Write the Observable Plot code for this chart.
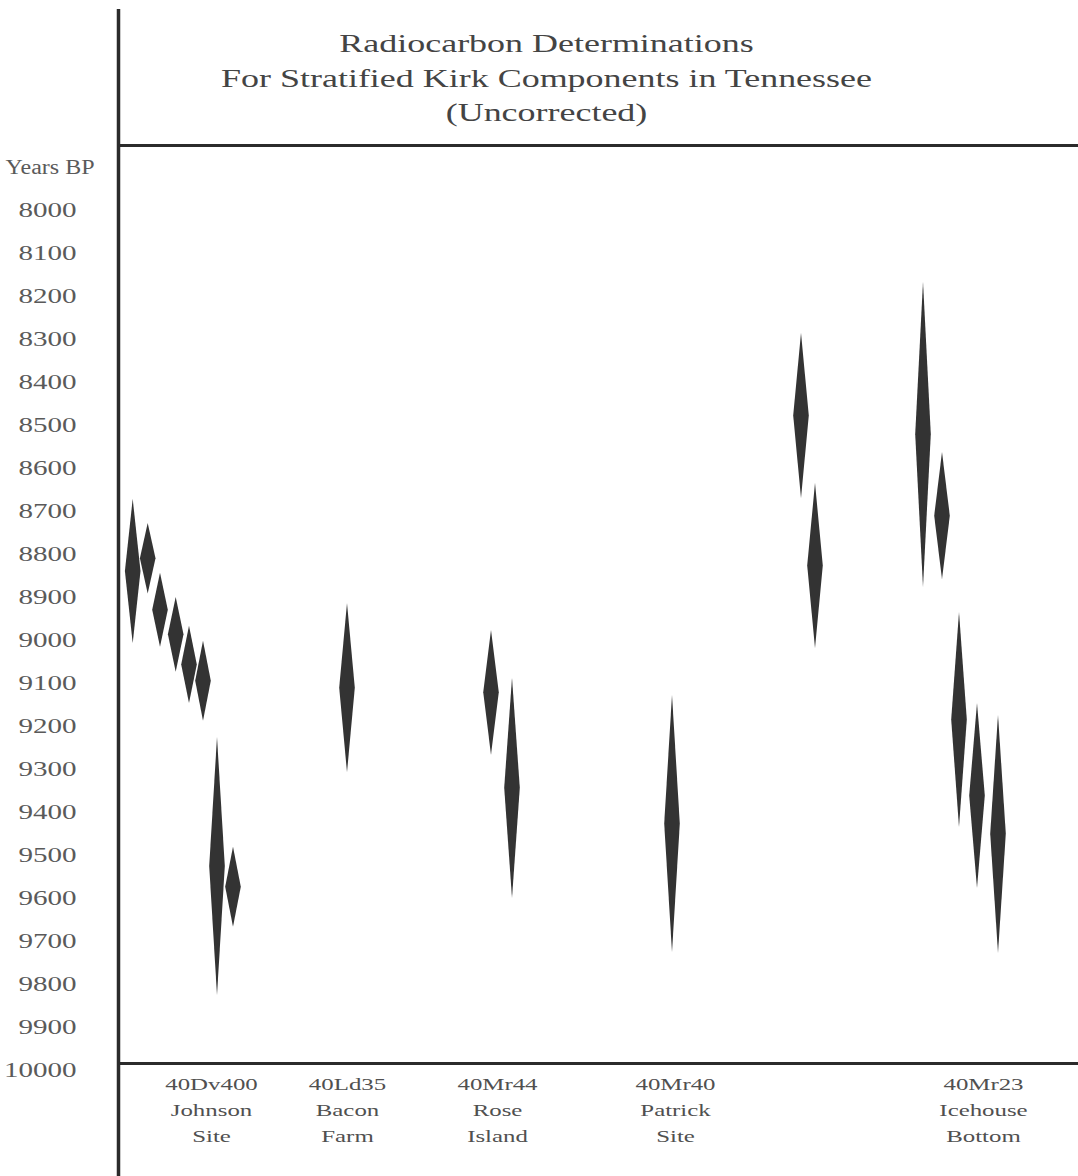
<!DOCTYPE html>
<html>
<head>
<meta charset="utf-8">
<script src="https://cdn.jsdelivr.net/npm/d3@7"></script>
<script src="https://cdn.jsdelivr.net/npm/@observablehq/plot@0.6"></script>
<style>
  html, body { margin: 0; padding: 0; background: #ffffff; }
  #chart { width: 1078px; height: 1176px; overflow: hidden; }
</style>
</head>
<body>
<div id="chart"></div>
<script>
// ---------------- data ----------------
const titleLines = [
  "Radiocarbon Determinations",
  "For Stratified Kirk Components in Tennessee",
  "(Uncorrected)"
];
const yAxisTitle = "Years BP";
const yTickValues = [8000, 8100, 8200, 8300, 8400, 8500, 8600, 8700, 8800, 8900,
                     9000, 9100, 9200, 9300, 9400, 9500, 9600, 9700, 9800, 9900, 10000];

// one entry per radiocarbon determination (mean date BP and 1-sigma)
const sampleSite  = ["40Dv400","40Dv400","40Dv400","40Dv400","40Dv400","40Dv400","40Dv400","40Dv400",
                     "40Ld35",
                     "40Mr44","40Mr44",
                     "40Mr40",
                     "unlabeled","unlabeled",
                     "40Mr23","40Mr23","40Mr23","40Mr23","40Mr23"];
const samplePos   = [1.47, 2.97, 4.2, 5.77, 7.1, 8.5, 9.9, 11.5,
                     22.9,
                     37.3, 39.4,
                     55.4,
                     68.3, 69.7,
                     80.5, 82.4, 84.1, 85.9, 88.0];
const sampleDate  = [8840, 8810, 8930, 8987, 9057, 9095, 9526, 9574,
                     9111,
                     9122, 9344,
                     9427,
                     8478, 8827,
                     8522, 8711, 9185, 9362, 9451];
const sampleSigma = [168, 82, 86, 87, 90, 93, 300, 93,
                     197,
                     145, 256,
                     299,
                     192, 192,
                     355, 148, 250, 215, 277];

// site labels along the bottom
const siteCodes    = ["40Dv400", "40Ld35", "40Mr44", "40Mr40", "40Mr23"];
const siteNames    = ["Johnson", "Bacon", "Rose", "Patrick", "Icehouse"];
const siteSuffixes = ["Site", "Farm", "Island", "Site", "Bottom"];
const siteLabelPos = [9.3, 22.9, 37.9, 55.7, 86.5];

// ---------------- derived tables ----------------
const HALF_W = 0.78; // diamond half-width in x units
const diamondPts = [];
sampleDate.forEach((d, i) => {
  const x = samplePos[i], s = sampleSigma[i];
  diamondPts.push({id: i, site: sampleSite[i], y: d - s, x1: x, x2: x});
  diamondPts.push({id: i, site: sampleSite[i], y: d,     x1: x - HALF_W, x2: x + HALF_W});
  diamondPts.push({id: i, site: sampleSite[i], y: d + s, x1: x, x2: x});
});
const siteLabels = siteCodes.map((c, i) => ({
  x: siteLabelPos[i],
  text: c + "\n" + siteNames[i] + "\n" + siteSuffixes[i]
}));

const INK = "#2b2b2b";

const chart = Plot.plot({
  width: 1078,
  height: 1176,
  marginLeft: 118,
  marginRight: 0,
  marginTop: 145,
  marginBottom: 113,
  style: {fontFamily: "'Liberation Serif', 'Times New Roman', serif", background: "#ffffff", color: "#444"},
  x: {domain: [0, 96], axis: null},
  y: {domain: [7849, 9984], reverse: true, axis: null},
  marks: [
    // frame lines
    Plot.frame({anchor: "top", stroke: INK, strokeWidth: 3}),
    Plot.frame({anchor: "bottom", stroke: INK, strokeWidth: 3}),
    Plot.ruleX([0], {insetTop: -136, insetBottom: -113, stroke: INK, strokeWidth: 3.5}),
    // diamonds
    Plot.areaX(diamondPts, {y: "y", x1: "x1", x2: "x2", z: "id", fill: "#333333", curve: "linear"}),
    // y tick labels
    Plot.text(yTickValues, {y: d => d, text: d => String(d), frameAnchor: "left", dx: -42,
      textAnchor: "end", fontSize: 21.5, fill: "#5a5a5a"}),
    Plot.text([yAxisTitle], {frameAnchor: "top-left", dx: -24, dy: 22, textAnchor: "end",
      lineAnchor: "middle", fontSize: 20, fill: "#5a5a5a"}),
    // title
    Plot.text([titleLines.join("\n")], {frameAnchor: "top", dx: -52, dy: -70, lineAnchor: "middle",
      lineHeight: 1.36, fontSize: 25.5, fill: "#444444"}),
    // site labels
    Plot.text(siteLabels, {x: "x", text: "text", frameAnchor: "bottom", dy: 44, lineAnchor: "middle",
      lineHeight: 1.48, fontSize: 17.5, fill: "#505050"})
  ]
});

document.getElementById("chart").appendChild(chart);

// the original figure's lettering is horizontally stretched: widen glyphs
const stretchBySize = {"25.5px": 1.41, "21.5px": 1.35, "20px": 1.2, "17.5px": 1.42};
chart.querySelectorAll("text").forEach(t => {
  const fs = getComputedStyle(t).fontSize;
  const k = stretchBySize[fs] || 1.35;
  const spans = t.querySelectorAll("tspan");
  const targets = spans.length ? Array.from(spans) : [t];
  targets.forEach(el => {
    const L = el.getComputedTextLength();
    if (L > 0) {
      el.setAttribute("textLength", (L * k).toFixed(1));
      el.setAttribute("lengthAdjust", "spacingAndGlyphs");
    }
  });
});
</script>
</body>
</html>
